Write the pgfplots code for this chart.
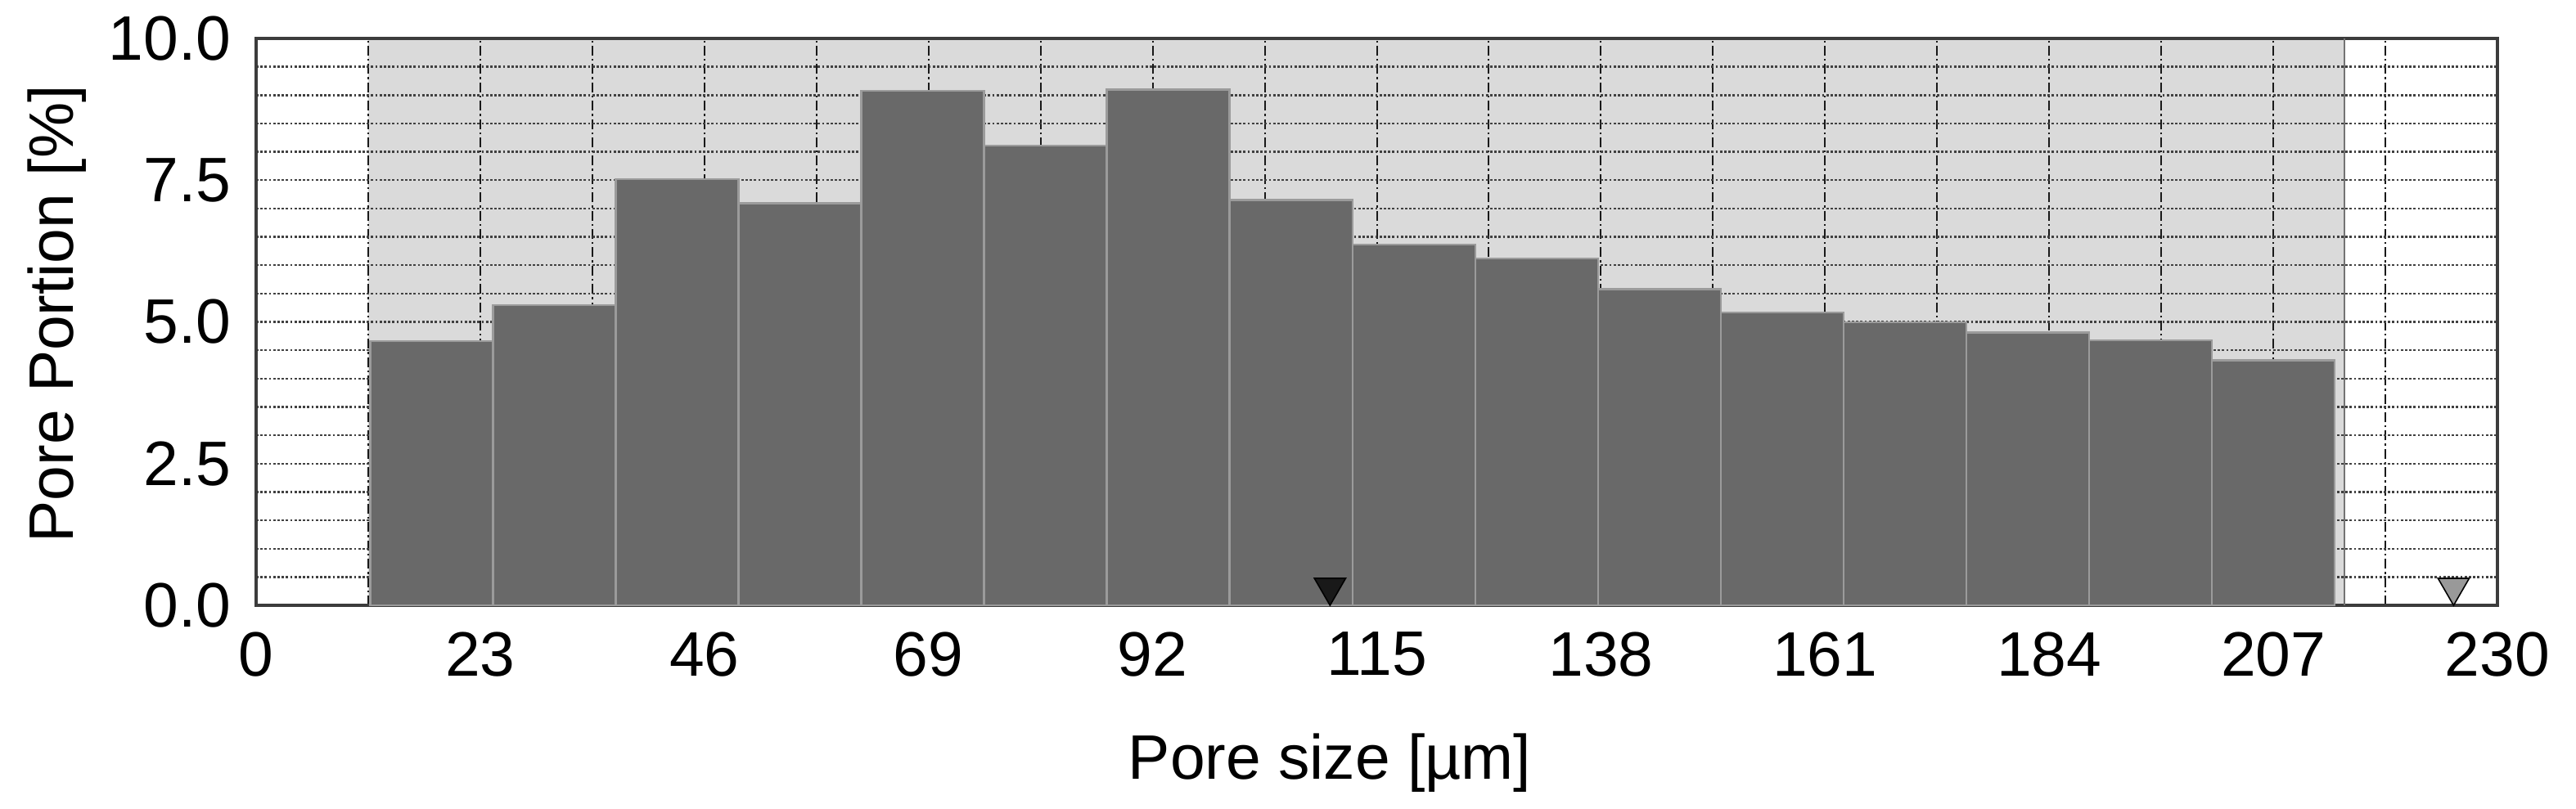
\documentclass[border=0pt]{standalone}
\usepackage{fontspec}
\setmainfont{Liberation Sans}
\usepackage{pgfplots}
\pgfplotsset{compat=1.18}
\definecolor{bargray}{RGB}{105,105,105}
\definecolor{sepgray}{RGB}{155,155,155}
\definecolor{bggray}{RGB}{218,218,218}
\definecolor{framegray}{RGB}{60,60,60}
\begin{document}
\begin{tikzpicture}
\begin{axis}[
  name=ax,
  set layers=standard,
  scale only axis,
  width=684.75pt, height=173.25pt,
  xmin=0, xmax=230, ymin=0, ymax=10,
  xtick={0,23,...,230},
  minor x tick num=1,
  ytick={0,2.5,5,7.5,10},
  yticklabels={0.0,2.5,5.0,7.5,10.0},
  minor y tick num=4,
  major tick length=0pt, minor tick length=0pt,
  grid=both,
  x grid style={black!90, line width=0.5pt, dash pattern=on 3pt off 1pt on 0.6pt off 1pt},
  y grid style={black!75, line width=0.6pt, dash pattern=on 0.7pt off 0.6pt},
  axis line style={framegray, line width=0.9pt},
  /pgf/number format/assume math mode=true,
  tick label style={font=\fontsize{19.2}{23}\selectfont, inner sep=2pt},
  xticklabel style={yshift=-6pt},
  yticklabel style={xshift=-5.5pt},
  label style={font=\fontsize{19.2}{23}\selectfont, inner sep=0pt},
  xlabel={Pore size [µm]},
  ylabel={Pore Portion [\%]},
  xlabel style={at={(axis description cs:0.479,0)}, anchor=north, yshift=-39pt},
  ylabel style={at={(axis description cs:-0.1022,0.514)}, anchor=north},
  clip=false,
]
% shaded measurement range
\addplot[on layer=axis background, fill=bggray, draw=none] coordinates {(11.5,10) (214.3,10)} \closedcycle;
\addplot[black!55, line width=0.6pt] coordinates {(214.3,0) (214.3,10)};
% histogram bars
\addplot[ybar interval, fill=bargray, draw=sepgray, line width=0.6pt] coordinates {
(11.7,4.665) (24.3,5.30) (36.9,7.52) (49.5,7.09) (62.1,9.08) (74.7,8.11)
(87.3,9.10) (99.9,7.15) (112.5,6.36) (125.1,6.12) (137.7,5.58) (150.3,5.17)
(162.9,4.99) (175.5,4.81) (188.1,4.675) (200.7,4.32) (213.3,0)};
% markers
\addplot[only marks, mark=triangle*, mark size=5.5pt, mark options={rotate=180, fill=black!90, draw=none}] coordinates {(110.2,0.317)};
\addplot[only marks, mark=triangle*, mark size=5.5pt, mark options={rotate=180, fill=black!40, draw=none}] coordinates {(225.5,0.317)};
\end{axis}
\path ([xshift=-78.25pt,yshift=-62pt]ax.south west) rectangle ([xshift=24pt,yshift=11.75pt]ax.north east);
\end{tikzpicture}
\end{document}
